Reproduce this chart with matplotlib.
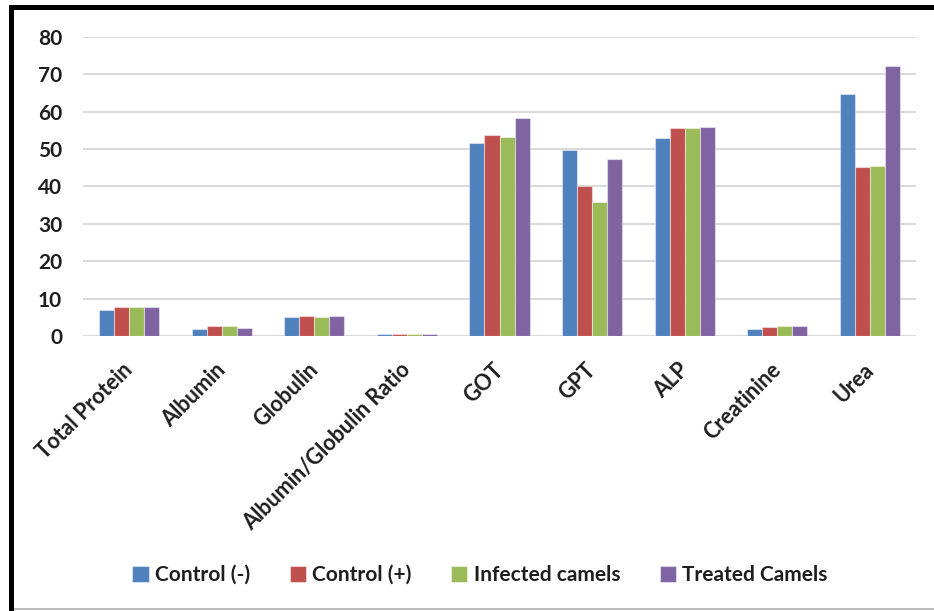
import matplotlib
matplotlib.use("Agg")
import matplotlib.pyplot as plt
from matplotlib.patches import Rectangle
from matplotlib.transforms import ScaledTranslation
import numpy as np

categories = [
    "Total Protein",
    "Albumin",
    "Globulin",
    "Albumin/Globulin Ratio",
    "GOT",
    "GPT",
    "ALP",
    "Creatinine",
    "Urea",
]
control_neg = [7.0, 1.9, 5.0, 0.5, 51.7, 49.8, 52.8, 1.8, 64.8]
control_pos = [7.7, 2.6, 5.3, 0.5, 53.7, 40.1, 55.5, 2.3, 45.2]
infected = [7.7, 2.6, 5.0, 0.5, 53.1, 35.7, 55.5, 2.6, 45.5]
treated = [7.7, 2.2, 5.3, 0.5, 58.3, 47.3, 55.9, 2.6, 72.2]

series_names = ["Control (-)", "Control (+)", "Infected camels", "Treated Camels"]
colors = ["#4F81BD", "#C0504D", "#9BBB59", "#8064A2"]
text_col = "#1E1E1E"

plt.rcParams["font.family"] = ["Lato", "DejaVu Sans"]
plt.rcParams["font.weight"] = "bold"

W, H = 934, 611
fig = plt.figure(figsize=(W / 100, H / 100), dpi=100)
ax = fig.add_axes([83 / W, 1 - 336 / H, 833 / W, 299.3 / H])

x = np.arange(len(categories))
group_w = 0.65
bar_w = group_w / 4
for k, (vals, name, col) in enumerate(zip([control_neg, control_pos, infected, treated], series_names, colors)):
    ax.bar(x + (k - 1.5) * bar_w, vals, width=bar_w, color=col, label=name,
           edgecolor=(1, 1, 1, 0.45), linewidth=0.8, zorder=3)

ax.set_xlim(-0.5, len(categories) - 0.5)
ax.set_ylim(0, 80)
ax.set_yticks(np.arange(0, 81, 10))
ax.grid(axis="y", color="#D9D9D9", linewidth=1.4, zorder=0)
ax.set_axisbelow(True)
for s in ax.spines.values():
    s.set_visible(False)

# category names drawn as rotated texts so their end can be nudged left of the group centre
ax.set_xticks(x)
ax.set_xticklabels([])
ax.tick_params(axis="x", length=0)
shift = ScaledTranslation(-7 / 100, -23 / 100, fig.dpi_scale_trans)
for i, name in enumerate(categories):
    ax.text(i, 0, name, transform=ax.get_xaxis_transform() + shift,
            rotation=45, ha="right", va="top", rotation_mode="anchor",
            fontsize=15.5, fontweight="bold", color=text_col)

ax.tick_params(axis="y", length=0, pad=15, labelsize=15, labelcolor=text_col)
for lab in ax.get_yticklabels():
    lab.set_fontweight("bold")

fig.legend(loc="center", bbox_to_anchor=(480 / W, 1 - 575 / H), ncol=4, frameon=False,
           fontsize=15, handlelength=0.78, handleheight=0.78, handletextpad=0.3,
           columnspacing=1.9, labelcolor=text_col)

# black frame on top and left, thin grey line along the bottom
fig.add_artist(Rectangle((9 / W, 1 - 10 / H), 1 - 9 / W, 5 / H, transform=fig.transFigure,
                         color="black", lw=0))
fig.add_artist(Rectangle((9 / W, 0), 5 / W, 1 - 5 / H, transform=fig.transFigure,
                         color="black", lw=0))
fig.add_artist(Rectangle((14 / W, 1.5 / H), 1, 1.5 / H, transform=fig.transFigure,
                         color="#BFBFBF", lw=0))

fig.savefig("out.png", dpi=100)
